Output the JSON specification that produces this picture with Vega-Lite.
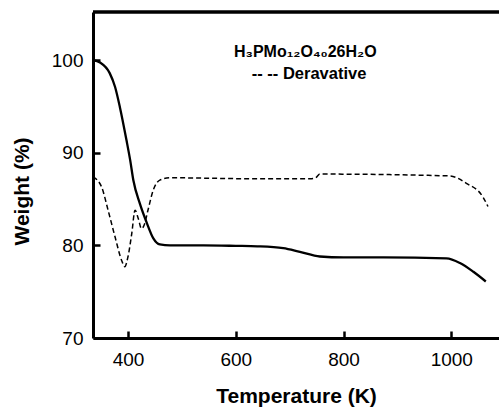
{
  "$schema": "https://vega.github.io/schema/vega-lite/v6.json",
  "width": 406,
  "height": 326,
  "autosize": {"type": "none"},
  "padding": {"left": 93, "top": 12, "right": 0, "bottom": 71},
  "background": "white",
  "config": {
    "view": {"stroke": null},
    "font": "Liberation Sans",
    "axis": {
      "grid": false,
      "ticks": true,
      "zindex": 1,
      "domainColor": "black",
      "domainWidth": 3,
      "tickColor": "black",
      "tickWidth": 2.5,
      "tickSize": -7,
      "labelColor": "black",
      "labelFontSize": 19,
      "labelFont": "Liberation Sans",
      "titleColor": "black",
      "titleFont": "Liberation Sans",
      "titleFontSize": 21,
      "titleFontWeight": "bold"
    }
  },
  "datasets": {
    "weight": [
      {"T": 335, "W": 100.0},
      {"T": 348, "W": 99.75},
      {"T": 366, "W": 98.6},
      {"T": 376, "W": 97.1},
      {"T": 385, "W": 94.9},
      {"T": 397, "W": 91.4},
      {"T": 404, "W": 89.2},
      {"T": 410, "W": 87.0},
      {"T": 422, "W": 84.5},
      {"T": 435, "W": 82.4},
      {"T": 447, "W": 80.75},
      {"T": 459, "W": 80.1},
      {"T": 478, "W": 80.0},
      {"T": 540, "W": 80.0},
      {"T": 600, "W": 79.95},
      {"T": 640, "W": 79.9},
      {"T": 688, "W": 79.7},
      {"T": 719, "W": 79.3},
      {"T": 756, "W": 78.8},
      {"T": 800, "W": 78.7},
      {"T": 874, "W": 78.7},
      {"T": 991, "W": 78.6},
      {"T": 1016, "W": 78.1},
      {"T": 1041, "W": 77.15},
      {"T": 1064, "W": 76.1}
    ],
    "deriv": [
      {"T": 335, "D": 87.4},
      {"T": 351, "D": 86.3},
      {"T": 363, "D": 83.8},
      {"T": 376, "D": 80.9},
      {"T": 388, "D": 78.4},
      {"T": 394, "D": 77.7},
      {"T": 400, "D": 78.8},
      {"T": 407, "D": 81.3},
      {"T": 413, "D": 83.8},
      {"T": 419, "D": 82.9},
      {"T": 425, "D": 81.8},
      {"T": 430, "D": 82.2},
      {"T": 437, "D": 83.8},
      {"T": 447, "D": 86.0},
      {"T": 459, "D": 87.05},
      {"T": 478, "D": 87.3},
      {"T": 626, "D": 87.2},
      {"T": 738, "D": 87.2},
      {"T": 748, "D": 87.3},
      {"T": 756, "D": 87.7},
      {"T": 997, "D": 87.5},
      {"T": 1028, "D": 86.7},
      {"T": 1059, "D": 85.2},
      {"T": 1068, "D": 84.2}
    ],
    "title1": [
      {"T": 729, "Y": 100.3, "label": "H₃PMo₁₂O₄₀26H₂O"}
    ],
    "title2": [
      {"T": 736, "Y": 98.0, "label": "-- --  Deravative"}
    ],
    "frame": [{"Y": 105.2}]
  },
  "layer": [
    {
      "data": {"name": "weight"},
      "mark": {"type": "line", "color": "black", "strokeWidth": 2.3, "interpolate": "monotone"},
      "encoding": {
        "x": {
          "field": "T", "type": "quantitative",
          "scale": {"domain": [335, 1088.5], "nice": false, "zero": false},
          "axis": {
            "values": [400, 600, 800, 1000],
            "format": "d",
            "labelPadding": 19,
            "title": "Temperature (K)",
            "titleY": 64.7,
            "titleBaseline": "alphabetic"
          }
        },
        "y": {
          "field": "W", "type": "quantitative",
          "scale": {"domain": [70, 105.2], "nice": false, "zero": false},
          "axis": {
            "values": [70, 80, 90, 100],
            "format": "d",
            "labelPadding": 17,
            "title": "Weight (%)",
            "titleX": -65,
            "titleY": 179,
            "titleAngle": -90,
            "titleBaseline": "alphabetic",
            "titleAlign": "center"
          }
        }
      }
    },
    {
      "data": {"name": "deriv"},
      "mark": {"type": "line", "color": "black", "strokeWidth": 1.5, "strokeDash": [5, 3], "interpolate": "monotone"},
      "encoding": {
        "x": {"field": "T", "type": "quantitative"},
        "y": {"field": "D", "type": "quantitative"}
      }
    },
    {
      "data": {"name": "frame"},
      "mark": {"type": "rule", "color": "black", "strokeWidth": 3.5},
      "encoding": {
        "y": {"field": "Y", "type": "quantitative"}
      }
    },
    {
      "data": {"name": "title1"},
      "mark": {"type": "text", "font": "Liberation Sans", "fontWeight": "bold", "fontSize": 16, "align": "center", "baseline": "alphabetic", "color": "black"},
      "encoding": {
        "x": {"field": "T", "type": "quantitative"},
        "y": {"field": "Y", "type": "quantitative"},
        "text": {"field": "label"}
      }
    },
    {
      "data": {"name": "title2"},
      "mark": {"type": "text", "font": "Liberation Sans", "fontWeight": "bold", "fontSize": 16.5, "align": "center", "baseline": "alphabetic", "color": "black"},
      "encoding": {
        "x": {"field": "T", "type": "quantitative"},
        "y": {"field": "Y", "type": "quantitative"},
        "text": {"field": "label"}
      }
    }
  ]
}
